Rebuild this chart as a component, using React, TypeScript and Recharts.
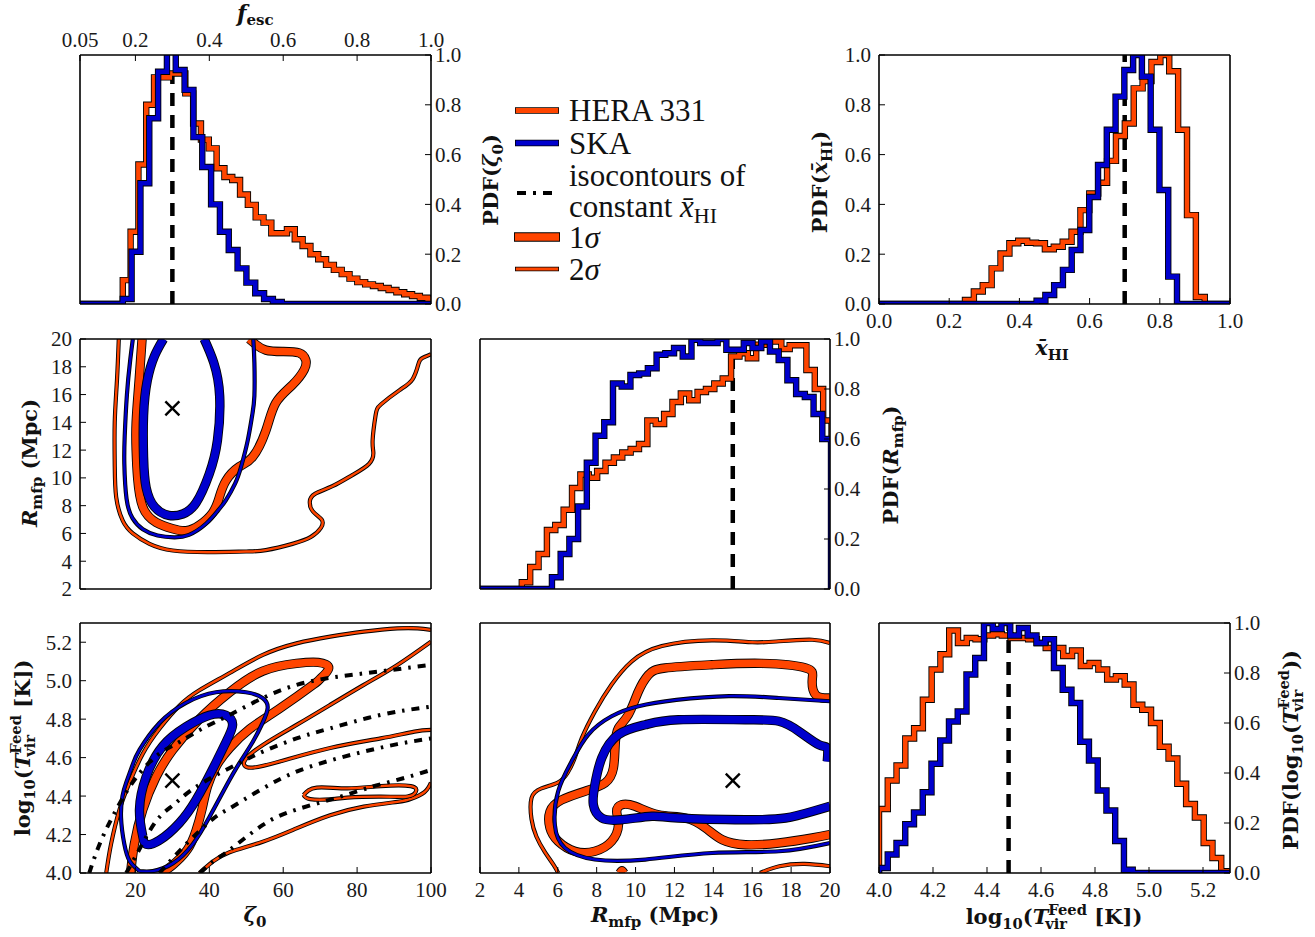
import React from 'react'
import { ComposedChart, Line, Scatter, XAxis, YAxis } from 'recharts'

const ORANGE = '#FF4500'
const BLUE = '#0000CD'

// ---- 1D histograms: [first bin edge, bin width] + bin heights ----
// top-left: PDF(zeta0)
const tlOrangeBins = [16.58, 2.116]
const tlOrange = [0.096, 0.29, 0.56, 0.8, 0.91, 0.91, 0.926, 0.926, 0.846, 0.725, 0.66, 0.625, 0.545, 0.51, 0.498, 0.44, 0.398, 0.348, 0.327, 0.284, 0.284, 0.3, 0.26, 0.233, 0.2, 0.18, 0.157, 0.137, 0.12, 0.102, 0.088, 0.079, 0.072, 0.064, 0.056, 0.047, 0.039, 0.032, 0.025, 0.021]
const tlBlueBins = [16.58, 2.39]
const tlBlue = [0.02, 0.21, 0.485, 0.746, 0.933, 1.02, 0.94, 0.86, 0.67, 0.55, 0.4, 0.29, 0.217, 0.143, 0.086, 0.043, 0.02, 0.008]

// top-right: PDF(x_HI)
const trOrangeBins = [0.245, 0.0253]
const trOrange = [0.016, 0.05, 0.076, 0.143, 0.203, 0.244, 0.254, 0.246, 0.244, 0.22, 0.23, 0.25, 0.29, 0.377, 0.444, 0.487, 0.575, 0.675, 0.725, 0.866, 0.895, 0.972, 1.0, 0.935, 0.7, 0.357, 0.028]
const trBlueBins = [0.449, 0.025]
const trBlue = [0.013, 0.036, 0.076, 0.137, 0.217, 0.297, 0.43, 0.558, 0.7, 0.833, 0.94, 1.0, 0.913, 0.7, 0.458, 0.11]

// middle-centre: PDF(R_mfp)
const mcOrangeBins = [4.15, 0.4305]
const mcOrange = [0.027, 0.088, 0.14, 0.236, 0.256, 0.317, 0.404, 0.458, 0.445, 0.472, 0.505, 0.526, 0.546, 0.56, 0.58, 0.674, 0.66, 0.7, 0.748, 0.782, 0.755, 0.788, 0.8, 0.822, 0.842, 0.93, 0.943, 0.923, 0.977, 0.99, 0.99, 0.96, 0.975, 0.975, 0.876, 0.8, 0.674]
const mcBlueBins = [5.7, 0.4485]
const mcBlue = [0.047, 0.14, 0.2, 0.33, 0.505, 0.613, 0.667, 0.822, 0.81, 0.856, 0.862, 0.883, 0.937, 0.943, 0.964, 0.93, 0.997, 0.984, 0.984, 1.0, 0.957, 0.957, 0.984, 0.964, 0.99, 0.95, 0.916, 0.835, 0.78, 0.768, 0.7, 0.6]

// bottom-right: PDF(log10 Tvir)
const brOrangeBins = [4.0, 0.0325]
const brOrange = [0.256, 0.37, 0.43, 0.538, 0.579, 0.693, 0.814, 0.875, 0.97, 0.92, 0.94, 0.935, 0.95, 0.955, 0.95, 0.94, 0.94, 0.935, 0.92, 0.9, 0.9, 0.868, 0.89, 0.828, 0.84, 0.814, 0.774, 0.787, 0.754, 0.673, 0.653, 0.6, 0.505, 0.458, 0.357, 0.276, 0.222, 0.12, 0.06, 0.007]
const brBlueBins = [4.0, 0.0324]
const brBlue = [0.02, 0.074, 0.12, 0.195, 0.242, 0.323, 0.437, 0.53, 0.606, 0.646, 0.794, 0.86, 1.0, 0.976, 1.0, 0.95, 0.98, 0.95, 0.92, 0.935, 0.82, 0.733, 0.68, 0.525, 0.45, 0.33, 0.25, 0.128, 0.013]

// fiducial values [x, top of dashed line]
const tlTruth = [30, 0.92]
const trTruth = [0.7, 1.0]
const mcTruth = [15, 0.93]
const brTruth = [4.48, 1.0]

// ---- 2D contours ----
// zeta0 vs R_mfp
const mlOrange2 = [[15.5, 20], [15.0, 17], [14.4, 14], [14.4, 11], [14.8, 8.6], [16.6, 6.9], [19.3, 6.0], [23.8, 5.25], [30.1, 4.77], [40, 4.65], [50, 4.7], [55.3, 4.8], [62.5, 5.25], [67.5, 5.75], [70.2, 6.4], [70.4, 7.0], [68.0, 7.6], [67.2, 8.3], [68.6, 8.85], [73.3, 9.4], [78.7, 10.2], [83.2, 11.0], [84.4, 11.8], [84.2, 12.7], [85.0, 14.5], [86.5, 15.3], [91.4, 16.3], [95.0, 17.1], [96.6, 18.2], [97.5, 18.6], [100, 18.9]]
const mlOrange1 = [[21.8, 20], [21.0, 17], [20.2, 14], [20.2, 12], [20.6, 10], [22, 7.9], [25.6, 6.8], [30.1, 6.34], [33.7, 6.2], [37.3, 6.6], [40.9, 7.5], [42.7, 8.6], [44.5, 9.8], [48.1, 10.8], [51.7, 11.5], [55.3, 13.4], [58, 15.4], [62.5, 16.7], [65.7, 17.8], [66.1, 18.5], [64.3, 19.0], [59.8, 19.1], [55.3, 19.2], [52.6, 19.6], [50.8, 20]]
const mlBlue2 = [[19.3, 20], [18.6, 18.5], [17.7, 16], [17.1, 13], [17.0, 11], [17.6, 8.5], [19.2, 7.1], [22, 6.3], [26, 5.85], [30.5, 5.72], [34.5, 5.9], [39.1, 6.7], [42.5, 7.7], [44.5, 8.4], [47, 9.6], [48.6, 10.8], [50.4, 12.7], [51.6, 14.5], [52.2, 15.9], [52.2, 18.3], [51.9, 20]]
const mlBlue1 = [[27.6, 20], [25.2, 18.8], [23.2, 17], [22.2, 14.5], [22.2, 11.5], [22.9, 9.3], [25.2, 7.9], [29, 7.3], [32.8, 7.4], [36.4, 8.2], [40, 10.3], [42.2, 12.7], [42.8, 15.9], [41.2, 18.3], [38.6, 20]]
const mlTruth = [30, 15]

// zeta0 vs log10 Tvir
const blOrange2a = [[12.1, 4.0], [13.4, 4.15], [15.7, 4.33], [18.4, 4.47], [22, 4.62], [26.5, 4.75], [31.9, 4.87], [37.3, 4.95], [45.5, 5.04], [54.5, 5.134], [63.6, 5.194], [72.7, 5.229], [81.8, 5.255], [90.9, 5.272], [96.4, 5.272], [100, 5.264]]
const blOrange2b = [[100, 5.203], [90.9, 5.082], [81.8, 4.978], [72.7, 4.874], [63.6, 4.77], [54.5, 4.666], [50, 4.596], [49.5, 4.56], [51.8, 4.548], [59.1, 4.58], [72.7, 4.65], [86.4, 4.7], [95.5, 4.735], [100, 4.744]]
const blOrange2c = [[37.3, 4.0], [41, 4.06], [45.5, 4.108], [54.5, 4.163], [63.6, 4.232], [72.7, 4.3], [81.8, 4.345], [90.9, 4.37], [94.5, 4.385], [98.2, 4.42], [100, 4.47]]
const blOrange2d = [[65.5, 4.406], [69.1, 4.444], [77.3, 4.44], [86.4, 4.452], [94.5, 4.452], [95.9, 4.423], [93.6, 4.398], [86.4, 4.397], [77.3, 4.392], [72.7, 4.383], [67.3, 4.384], [65.5, 4.406]]
const blOrange1 = [[18.7, 4.0], [19.7, 4.15], [22, 4.33], [25.6, 4.5], [30.1, 4.64], [37.3, 4.8], [45.5, 4.94], [54.5, 5.05], [63.6, 5.09], [69.5, 5.095], [72.3, 5.064], [70, 5.01], [68.2, 4.98], [59.1, 4.856], [51, 4.75], [45.5, 4.65], [42, 4.56], [39.5, 4.45], [38, 4.33], [36.4, 4.22], [34, 4.12], [30, 4.04], [27, 4.0]]
const blBlue2 = [[21.1, 4.01], [18.5, 4.06], [17, 4.15], [16.1, 4.29], [16.5, 4.4], [17.5, 4.47], [19.2, 4.56], [21.1, 4.64], [26.5, 4.78], [33.7, 4.885], [41.8, 4.94], [49.9, 4.94], [54.4, 4.91], [55.8, 4.86], [54.4, 4.78], [51.7, 4.68], [48.1, 4.57], [44.5, 4.45], [40, 4.29], [35.5, 4.15], [30.1, 4.05], [24.7, 4.01], [21.1, 4.01]]
const blBlue1 = [[22, 4.19], [21.1, 4.33], [22.9, 4.5], [27.4, 4.66], [33.7, 4.76], [40, 4.82], [44.5, 4.82], [46.3, 4.77], [44.5, 4.68], [40.9, 4.54], [36.4, 4.38], [31.9, 4.26], [26.5, 4.17], [22.9, 4.15], [22, 4.19]]
const blIso1 = [[7.5, 4.0], [10.3, 4.15], [14, 4.3], [18.5, 4.45], [23.5, 4.57], [28, 4.64], [32.3, 4.685], [38, 4.75], [45.5, 4.822], [54.5, 4.91], [63.6, 4.978], [72.7, 5.015], [81.8, 5.038], [90.9, 5.06], [100, 5.082]]
const blIso2 = [[17.5, 4.0], [21, 4.12], [25.6, 4.27], [30, 4.35], [33.7, 4.41], [40, 4.49], [49, 4.58], [54.5, 4.631], [63.6, 4.7], [72.7, 4.752], [86.4, 4.822], [100, 4.865]]
const blIso3 = [[26.5, 4.0], [33.7, 4.15], [40.9, 4.28], [45.5, 4.336], [54.5, 4.44], [63.6, 4.527], [72.7, 4.585], [81.8, 4.631], [90.9, 4.67], [100, 4.7]]
const blIso4 = [[37.5, 4.0], [41, 4.06], [45.5, 4.12], [54.5, 4.25], [63.6, 4.33], [75.5, 4.397], [84.1, 4.449], [92, 4.49], [100, 4.536]]
const blTruth = [30, 4.48]

// R_mfp vs log10 Tvir
const bcOrange2a = [[6.02, 4.0], [5.8, 4.04], [5.33, 4.11], [4.9, 4.19], [4.65, 4.28], [4.65, 4.39], [5.16, 4.44], [6.0, 4.47], [6.5, 4.52], [6.88, 4.6], [7.23, 4.7], [7.91, 4.84], [8.77, 4.98], [9.8, 5.1], [11.35, 5.18], [13.93, 5.21], [16, 5.2], [17.37, 5.205], [19.09, 5.213], [20, 5.196]]
const bcOrange2b = [[16.4, 4.0], [17.4, 4.035], [18.7, 4.047], [20, 4.035]]
const bcOrange1a = [[20, 4.91], [19.26, 4.927], [19.09, 5.01], [18.75, 5.066], [16.5, 5.09], [13.93, 5.083], [11.52, 5.066], [10.66, 5.03], [10.15, 4.945], [9.63, 4.823], [9.12, 4.754], [8.95, 4.667], [8.86, 4.546], [8.43, 4.468], [7.4, 4.425], [6.2, 4.38], [5.6, 4.32], [5.6, 4.234], [6.02, 4.165], [6.88, 4.113], [7.91, 4.113], [8.77, 4.165], [9.12, 4.25], [9.03, 4.32], [9.29, 4.355], [9.98, 4.347], [11.18, 4.303], [12.56, 4.286], [13.6, 4.234], [14.46, 4.173], [15.66, 4.147], [17.37, 4.156], [19.09, 4.182], [20, 4.2]]
const bcOrange1b = [[9.2, 4.0], [9.3, 4.012], [9.4, 4.0]]
const bcBlue2 = [[20, 4.893], [17.37, 4.91], [14.8, 4.92], [12.1, 4.9], [10.15, 4.867], [8.77, 4.815], [7.57, 4.72], [6.71, 4.58], [6.02, 4.425], [5.85, 4.25], [6.37, 4.13], [7.91, 4.07], [10.5, 4.07], [13.93, 4.104], [17.37, 4.113], [20, 4.156]]
const bcBlue1 = [[19.86, 4.58], [19.86, 4.65], [19.43, 4.667], [18.4, 4.737], [17.37, 4.789], [15.65, 4.797], [12.2, 4.797], [10.5, 4.771], [9.12, 4.72], [8.26, 4.598], [7.91, 4.46], [7.83, 4.355], [8.26, 4.286], [9.29, 4.277], [10.84, 4.295], [12.2, 4.286], [15.65, 4.277], [17.71, 4.286], [19.09, 4.32], [20, 4.347]]
const bcTruth = [15, 4.48]

// ---- axes ----
const zetaTicks = [20, 40, 60, 80, 100]
const fescTicks = [5, 20, 40, 60, 80, 100]
const pdfTicks = [0, 0.2, 0.4, 0.6, 0.8, 1.0]
const rTicks = [2, 4, 6, 8, 10, 12, 14, 16, 18, 20]
const tTicks = [4.0, 4.2, 4.4, 4.6, 4.8, 5.0, 5.2]

type P = { x: number; y: number }
const pts = (a: number[][]): P[] => a.map(([x, y]) => ({ x, y }))

function steps(lo: number, hi: number, bins: number[], vals: number[]): P[] {
  const [start, width] = bins
  const out: P[] = [{ x: lo, y: 0 }]
  vals.forEach((v, i) => out.push({ x: start + i * width, y: v }))
  out.push({ x: start + vals.length * width, y: 0 }, { x: hi, y: 0 })
  return out
}

const lineBase = {
  xAxisId: 'b',
  yAxisId: 'l',
  dataKey: 'y',
  dot: false,
  activeDot: false,
  isAnimationActive: false,
  legendType: 'none' as const,
}

// coloured line drawn over a slightly wider black one
function edged(key: string, data: P[], color: string, w: number, type: any = 'natural', join: any = 'round') {
  return [
    <Line key={key + '-k'} {...lineBase} data={data} type={type} stroke="#000" strokeWidth={w + 1.8} strokeLinejoin={join} />,
    <Line key={key + '-c'} {...lineBase} data={data} type={type} stroke={color} strokeWidth={w} strokeLinejoin={join} />,
  ]
}

const hist = (key: string, data: P[], color: string) => edged(key, data, color, 4.6, 'stepAfter', 'miter')
const thin = (key: string, a: number[][], color: string) => edged(key, pts(a), color, 2.4)
const thick = (key: string, a: number[][], color: string) => edged(key, pts(a), color, 7.6)

function iso(key: string, a: number[][]) {
  return <Line key={key} {...lineBase} data={pts(a)} type="natural" stroke="#000" strokeWidth={4} strokeDasharray="8 7 2.5 7" />
}

function truth(key: string, t: number[]) {
  return <Line key={key} {...lineBase} data={[{ x: t[0], y: 0 }, { x: t[0], y: t[1] }]} type="linear" stroke="#000" strokeWidth={4.5} strokeDasharray="13 9" />
}

const Cross = (p: any) => (
  <g>
    <line x1={p.cx - 7} y1={p.cy - 7} x2={p.cx + 7} y2={p.cy + 7} stroke="#000" strokeWidth={2.4} />
    <line x1={p.cx - 7} y1={p.cy + 7} x2={p.cx + 7} y2={p.cy - 7} stroke="#000" strokeWidth={2.4} />
  </g>
)

function marker(key: string, t: number[]) {
  return <Scatter key={key} xAxisId="b" yAxisId="l" data={[{ x: t[0], y: t[1] }]} shape={Cross} isAnimationActive={false} legendType="none" />
}

const AX = 40
const tickFont = { fill: '#1a1a1a', fontSize: 21, fontFamily: '"Liberation Serif", serif' }
const frame = { stroke: '#000', strokeWidth: 1.6 }
const tickLn = { stroke: '#000', strokeWidth: 1 }
const f1 = (v: number) => v.toFixed(1)
const fi = (v: number) => String(v)
const fesc = (v: number) => (v === 5 ? '0.05' : (v / 100).toFixed(1))

type Fmt = (v: number) => string
type Box = { l: number; t: number; w: number; h: number }

function Panel(props: {
  box: Box
  xd: number[]
  yd: number[]
  xt: number[]
  yt: number[]
  topT?: number[]
  lab: { b?: Fmt; t?: Fmt; l?: Fmt; r?: Fmt }
  children: React.ReactNode
}) {
  const { box, xd, yd, xt, yt, topT, lab } = props
  const common = {
    type: 'number' as const,
    allowDataOverflow: true,
    interval: 0 as const,
    tickSize: -6,
    axisLine: frame,
    tickLine: tickLn,
  }
  return (
    <div style={{ position: 'absolute', left: box.l - AX, top: box.t - AX }}>
      <ComposedChart width={box.w + 2 * AX} height={box.h + 2 * AX} margin={{ top: 0, right: 0, bottom: 0, left: 0 }}>
        <XAxis {...common} xAxisId="b" orientation="bottom" dataKey="x" domain={xd} ticks={xt} height={AX}
          tick={lab.b ? tickFont : false} tickFormatter={lab.b} tickMargin={15} />
        <XAxis {...common} xAxisId="t" orientation="top" dataKey="x" domain={xd} ticks={topT ?? xt} height={AX}
          tick={lab.t ? tickFont : false} tickFormatter={lab.t} tickMargin={14} />
        <YAxis {...common} yAxisId="l" orientation="left" dataKey="y" domain={yd} ticks={yt} width={AX}
          tick={lab.l ? tickFont : false} tickFormatter={lab.l} tickMargin={14} />
        <YAxis {...common} yAxisId="r" orientation="right" dataKey="y" domain={yd} ticks={yt} width={AX}
          tick={lab.r ? tickFont : false} tickFormatter={lab.r} tickMargin={10} />
        {props.children}
      </ComposedChart>
    </div>
  )
}

const boxTL = { l: 80, t: 55, w: 351, h: 249 }
const boxTR = { l: 879, t: 55, w: 351, h: 249 }
const boxML = { l: 80, t: 339, w: 351, h: 250 }
const boxMC = { l: 480, t: 339, w: 350, h: 250 }
const boxBL = { l: 80, t: 623, w: 351, h: 250 }
const boxBC = { l: 480, t: 623, w: 350, h: 250 }
const boxBR = { l: 879, t: 623, w: 351, h: 250 }

const lab = { fontFamily: '"DejaVu Serif", serif', fontWeight: 'bold' as const, fontSize: 21, fill: '#111' }
const leg = { fontFamily: '"Liberation Serif", serif', fontSize: 31, fill: '#111' }

function tvir(s: number, tail: string) {
  return [
    <tspan key="a">log</tspan>,
    <tspan key="b" dy={s * 0.25} fontSize={s * 0.7}>10</tspan>,
    <tspan key="c" dy={-s * 0.25}>(</tspan>,
    <tspan key="d" fontStyle="italic">T</tspan>,
    <tspan key="e" dy={-s * 0.45} fontSize={s * 0.7}>Feed</tspan>,
    <tspan key="f" dx={-s * 1.99} dy={s * 0.7} fontSize={s * 0.7}>vir</tspan>,
    <tspan key="g" dx={s * 0.95} dy={-s * 0.25}>{tail}</tspan>,
  ]
}

function Labels() {
  const s = 21
  return (
    <svg width={1315} height={937} style={{ position: 'absolute', left: 0, top: 0, pointerEvents: 'none' }}>
      {/* axis titles */}
      <text x={237} y={21} style={{ ...lab, fontSize: 22 }}>
        <tspan fontStyle="italic">f</tspan>
        <tspan dy={4} fontSize={15}>esc</tspan>
      </text>
      <text transform="translate(498 180) rotate(-90)" textAnchor="middle" style={lab}>
        PDF(<tspan fontStyle="italic">ζ</tspan><tspan dy={5} fontSize={15}>0</tspan><tspan dy={-5}>)</tspan>
      </text>
      <text transform="translate(827 182) rotate(-90)" textAnchor="middle" style={lab}>
        PDF(<tspan fontStyle="italic">x̄</tspan><tspan dy={5} fontSize={15}>HI</tspan><tspan dy={-5}>)</tspan>
      </text>
      <text x={1052} y={355} textAnchor="middle" style={lab}>
        <tspan fontStyle="italic">x̄</tspan><tspan dy={5} fontSize={15}>HI</tspan>
      </text>
      <text transform="translate(37 463) rotate(-90)" textAnchor="middle" style={lab}>
        <tspan fontStyle="italic">R</tspan><tspan dy={5} fontSize={15}>mfp</tspan><tspan dy={-5}> (Mpc)</tspan>
      </text>
      <text transform="translate(898 465) rotate(-90)" textAnchor="middle" style={lab}>
        PDF(<tspan fontStyle="italic">R</tspan><tspan dy={5} fontSize={15}>mfp</tspan><tspan dy={-5}>)</tspan>
      </text>
      <text transform="translate(30 748) rotate(-90)" textAnchor="middle" style={lab}>
        {tvir(s, ' [K])')}
      </text>
      <text x={255} y={922} textAnchor="middle" style={lab}>
        <tspan fontStyle="italic">ζ</tspan><tspan dy={5} fontSize={15}>0</tspan>
      </text>
      <text x={655} y={922} textAnchor="middle" style={lab}>
        <tspan fontStyle="italic">R</tspan><tspan dy={5} fontSize={15}>mfp</tspan><tspan dy={-5}> (Mpc)</tspan>
      </text>
      <text x={1054} y={924} textAnchor="middle" style={lab}>
        {tvir(s, ' [K])')}
      </text>
      <text transform="translate(1298 750) rotate(-90)" textAnchor="middle" style={lab}>
        PDF({tvir(s, '))')}
      </text>

      {/* legend */}
      <line x1={515} y1={110.5} x2={559} y2={110.5} stroke="#000" strokeWidth={6.6} />
      <line x1={515.8} y1={110.5} x2={558.2} y2={110.5} stroke={ORANGE} strokeWidth={4.8} />
      <text x={569} y={121} style={leg}>HERA 331</text>
      <line x1={515} y1={143} x2={559} y2={143} stroke="#000" strokeWidth={6.6} />
      <line x1={515.8} y1={143} x2={558.2} y2={143} stroke={BLUE} strokeWidth={4.8} />
      <text x={569} y={154} style={leg}>SKA</text>
      <line x1={517} y1={193} x2={559} y2={193} stroke="#000" strokeWidth={4} strokeDasharray="9 7 3 7" />
      <text x={569} y={186} style={leg}>isocontours of</text>
      <text x={569} y={217} style={leg}>
        constant <tspan fontStyle="italic">x̄</tspan><tspan dy={6} fontSize={22}>HI</tspan>
      </text>
      <line x1={514} y1={237} x2={560} y2={237} stroke="#000" strokeWidth={9.4} />
      <line x1={514.9} y1={237} x2={559.1} y2={237} stroke={ORANGE} strokeWidth={7.6} />
      <text x={569} y={248} style={leg}>1<tspan fontStyle="italic">σ</tspan></text>
      <line x1={515} y1={269} x2={559} y2={269} stroke="#000" strokeWidth={4.6} />
      <line x1={515.8} y1={269} x2={558.2} y2={269} stroke={ORANGE} strokeWidth={2.8} />
      <text x={569} y={280} style={leg}>2<tspan fontStyle="italic">σ</tspan></text>
    </svg>
  )
}

export default function App() {
  return (
    <div style={{ position: 'absolute', left: 0, top: 0, width: 1315, height: 937, background: '#fff' }}>
      <Panel box={boxTL} xd={[5, 100]} yd={[0, 1]} xt={zetaTicks} yt={pdfTicks} topT={fescTicks} lab={{ t: fesc, r: f1 }}>
        {truth('t', tlTruth)}
        {hist('o', steps(5, 100, tlOrangeBins, tlOrange), ORANGE)}
        {hist('b', steps(5, 100, tlBlueBins, tlBlue), BLUE)}
      </Panel>

      <Panel box={boxTR} xd={[0, 1]} yd={[0, 1]} xt={pdfTicks} yt={pdfTicks} lab={{ b: f1, l: f1 }}>
        {truth('t', trTruth)}
        {hist('o', steps(0, 1, trOrangeBins, trOrange), ORANGE)}
        {hist('b', steps(0, 1, trBlueBins, trBlue), BLUE)}
      </Panel>

      <Panel box={boxML} xd={[5, 100]} yd={[2, 20]} xt={zetaTicks} yt={rTicks} lab={{ l: fi }}>
        {thin('o2', mlOrange2, ORANGE)}
        {thick('o1', mlOrange1, ORANGE)}
        {thin('b2', mlBlue2, BLUE)}
        {thick('b1', mlBlue1, BLUE)}
        {marker('m', mlTruth)}
      </Panel>

      <Panel box={boxMC} xd={[2, 20]} yd={[0, 1]} xt={rTicks} yt={pdfTicks} lab={{ r: f1 }}>
        {truth('t', mcTruth)}
        {hist('o', steps(2, 20, mcOrangeBins, mcOrange), ORANGE)}
        {hist('b', steps(2, 20, mcBlueBins, mcBlue), BLUE)}
      </Panel>

      <Panel box={boxBL} xd={[5, 100]} yd={[4.0, 5.3]} xt={zetaTicks} yt={tTicks} lab={{ b: fi, l: f1 }}>
        {thin('o2a', blOrange2a, ORANGE)}
        {thin('o2b', blOrange2b, ORANGE)}
        {thin('o2c', blOrange2c, ORANGE)}
        {thin('o2d', blOrange2d, ORANGE)}
        {thick('o1', blOrange1, ORANGE)}
        {thin('b2', blBlue2, BLUE)}
        {thick('b1', blBlue1, BLUE)}
        {iso('i1', blIso1)}
        {iso('i2', blIso2)}
        {iso('i3', blIso3)}
        {iso('i4', blIso4)}
        {marker('m', blTruth)}
      </Panel>

      <Panel box={boxBC} xd={[2, 20]} yd={[4.0, 5.3]} xt={rTicks} yt={tTicks} lab={{ b: fi }}>
        {thin('o2a', bcOrange2a, ORANGE)}
        {thin('o2b', bcOrange2b, ORANGE)}
        {thick('o1a', bcOrange1a, ORANGE)}
        {thick('o1b', bcOrange1b, ORANGE)}
        {thin('b2', bcBlue2, BLUE)}
        {thick('b1', bcBlue1, BLUE)}
        {marker('m', bcTruth)}
      </Panel>

      <Panel box={boxBR} xd={[4.0, 5.3]} yd={[0, 1]} xt={tTicks} yt={pdfTicks} lab={{ b: f1, r: f1 }}>
        {truth('t', brTruth)}
        {hist('o', steps(4.0, 5.3, brOrangeBins, brOrange), ORANGE)}
        {hist('b', steps(4.0, 5.3, brBlueBins, brBlue), BLUE)}
      </Panel>

      <Labels />
    </div>
  )
}
